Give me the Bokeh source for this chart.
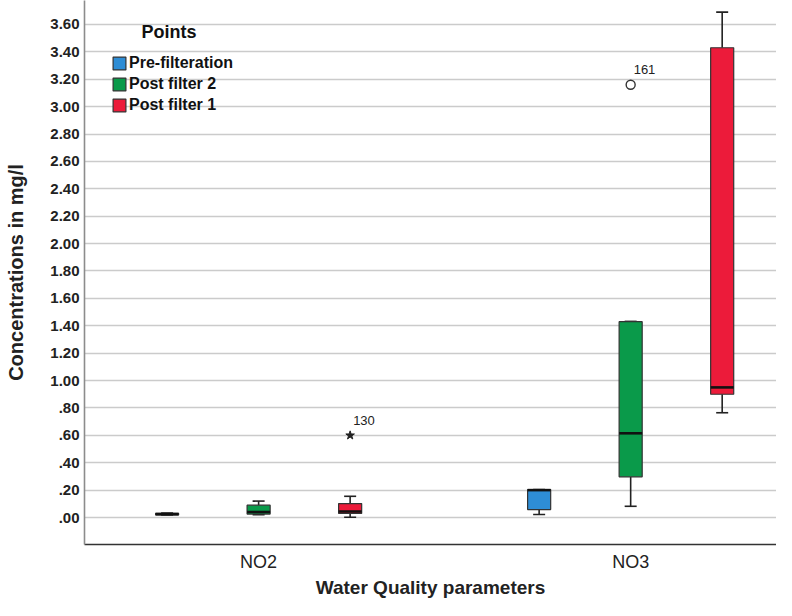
from bokeh.plotting import figure
from bokeh.models import Range1d, FixedTicker, Label, Legend, LegendItem, ColumnDataSource
from bokeh.core.properties import value
from bokeh.embed import file_html
from bokeh.resources import INLINE

# ---- data ----
categories = ["NO2", "NO3"]
series = ["Pre-filteration", "Post filter 2", "Post filter 1"]
colors = ["#2E8DD5", "#0A9A4A", "#EC1B3A"]

whisker_low = {"Pre-filteration": [0.018, 0.022], "Post filter 2": [0.020, 0.082], "Post filter 1": [0.002, 0.765]}
box_q1 = {"Pre-filteration": [0.020, 0.058], "Post filter 2": [0.025, 0.297], "Post filter 1": [0.030, 0.900]}
box_median = {"Pre-filteration": [0.025, 0.200], "Post filter 2": [0.040, 0.615], "Post filter 1": [0.044, 0.950]}
box_q3 = {"Pre-filteration": [0.030, 0.204], "Post filter 2": [0.090, 1.430], "Post filter 1": [0.102, 3.430]}
whisker_high = {"Pre-filteration": [0.032, 0.204], "Post filter 2": [0.120, 1.432], "Post filter 1": [0.155, 3.690]}

outlier_category = ["NO2", "NO3"]
outlier_series = ["Post filter 1", "Post filter 2"]
outlier_value = [0.60, 3.16]
outlier_id = ["130", "161"]

y_ticks = [0.0, 0.2, 0.4, 0.6, 0.8, 1.0, 1.2, 1.4, 1.6, 1.8, 2.0, 2.2, 2.4, 2.6, 2.8, 3.0, 3.2, 3.4, 3.6]
y_tick_labels = [".00", ".20", ".40", ".60", ".80", "1.00", "1.20", "1.40", "1.60", "1.80",
                 "2.00", "2.20", "2.40", "2.60", "2.80", "3.00", "3.20", "3.40", "3.60"]

# ---- layout helpers ----
dodge = 0.246
box_w = 0.062
FONT = "Liberation Sans"


def xpos(cat, ser):
    return categories.index(cat) + 1 + (series.index(ser) - 1) * dodge


p = figure(width=776, height=600, output_backend="svg", toolbar_location=None,
           x_range=Range1d(0.532, 2.392), y_range=Range1d(-0.197, 3.775),
           min_border_left=84, min_border_right=0, min_border_top=0, min_border_bottom=55)
p.outline_line_color = None
p.background_fill_color = "white"
p.xgrid.grid_line_color = None
p.ygrid.grid_line_color = "#cbcbcb"
p.ygrid.grid_line_width = 1.6
p.ygrid.ticker = FixedTicker(ticks=y_ticks)

legend_items = []
for i, s in enumerate(series):
    xs = [xpos(c, s) for c in categories]
    src = ColumnDataSource(dict(x=xs, lo=whisker_low[s], q1=box_q1[s], med=box_median[s],
                                q3=box_q3[s], hi=whisker_high[s]))
    # whiskers
    p.segment(x0="x", y0="q3", x1="x", y1="hi", source=src, line_color="#222222", line_width=1.6)
    p.segment(x0="x", y0="lo", x1="x", y1="q1", source=src, line_color="#222222", line_width=1.6)
    p.scatter(x="x", y="hi", source=src, marker="dash", size=12, line_color="#222222", line_width=1.6)
    p.scatter(x="x", y="lo", source=src, marker="dash", size=12, line_color="#222222", line_width=1.6)
    # box
    r = p.vbar(x="x", bottom="q1", top="q3", width=box_w, source=src,
               fill_color=colors[i], line_color="#333333", line_width=1.2)
    # median
    p.scatter(x="x", y="med", source=src, marker="dash", size=23, line_color="#111111", line_width=2.6)
    legend_items.append(LegendItem(label=s, renderers=[r]))

# outliers
ox = [xpos(c, s) for c, s in zip(outlier_category, outlier_series)]
p.scatter(x=[ox[0]], y=[outlier_value[0]], marker="star", size=9, fill_color="#222222", line_color="#222222")
p.scatter(x=[ox[1]], y=[outlier_value[1]], marker="circle", size=9, fill_color=None,
          line_color="#333333", line_width=1.4)
p.text(x=ox, y=outlier_value, text=outlier_id, x_offset=3, y_offset=-15,
       text_font=value(FONT), text_font_size="13px", text_color="#222222",
       text_align="left", text_baseline="middle")

legend = Legend(items=legend_items, location=(27, 430), padding=0, margin=0,
                glyph_width=16, glyph_height=16, label_height=16, spacing=3, label_standoff=2,
                label_text_font=FONT, label_text_font_size="16px", label_text_font_style="bold",
                label_text_color="#111111", background_fill_alpha=0, border_line_color=None)
p.add_layout(legend, "center")
p.add_layout(Label(x=57, y=513, x_units="screen", y_units="screen", text="Points",
                   text_font=FONT, text_font_size="18px", text_font_style="bold",
                   text_color="#111111", text_baseline="middle"))

# axes
p.yaxis.ticker = FixedTicker(ticks=y_ticks)
p.yaxis.major_label_overrides = dict(zip(y_ticks, y_tick_labels))
p.yaxis.axis_label = "Concentrations in mg/l"
p.yaxis.axis_line_color = "#8c8c8c"
p.yaxis.axis_line_width = 1.6
p.yaxis.major_tick_line_color = None
p.yaxis.minor_tick_line_color = None
p.yaxis.major_tick_out = 0
p.yaxis.minor_tick_out = 0
p.yaxis.major_label_standoff = 5
p.yaxis.axis_label_standoff = 20
p.yaxis.major_label_text_font = FONT
p.yaxis.major_label_text_font_size = "15px"
p.yaxis.major_label_text_font_style = "bold"
p.yaxis.major_label_text_color = "#222222"
p.yaxis.axis_label_text_font_size = "20px"

p.xaxis.ticker = FixedTicker(ticks=[1, 2])
p.xaxis.major_label_overrides = {1: categories[0], 2: categories[1]}
p.xaxis.axis_label = "Water Quality parameters"
p.xaxis.axis_line_color = "#333333"
p.xaxis.axis_line_width = 1.6
p.xaxis.major_tick_line_color = None
p.xaxis.minor_tick_line_color = None
p.xaxis.major_tick_out = 0
p.xaxis.minor_tick_out = 0
p.xaxis.major_label_standoff = 7
p.xaxis.axis_label_standoff = 2
p.xaxis.major_label_text_font = FONT
p.xaxis.major_label_text_font_size = "18px"
p.xaxis.major_label_text_color = "#222222"
p.xaxis.axis_label_text_font_size = "19px"

for ax in (p.xaxis, p.yaxis):
    ax.axis_label_text_font = FONT
    ax.axis_label_text_font_style = "bold"
    ax.axis_label_text_color = "#222222"

open("out.html", "w").write(file_html(p, INLINE))
